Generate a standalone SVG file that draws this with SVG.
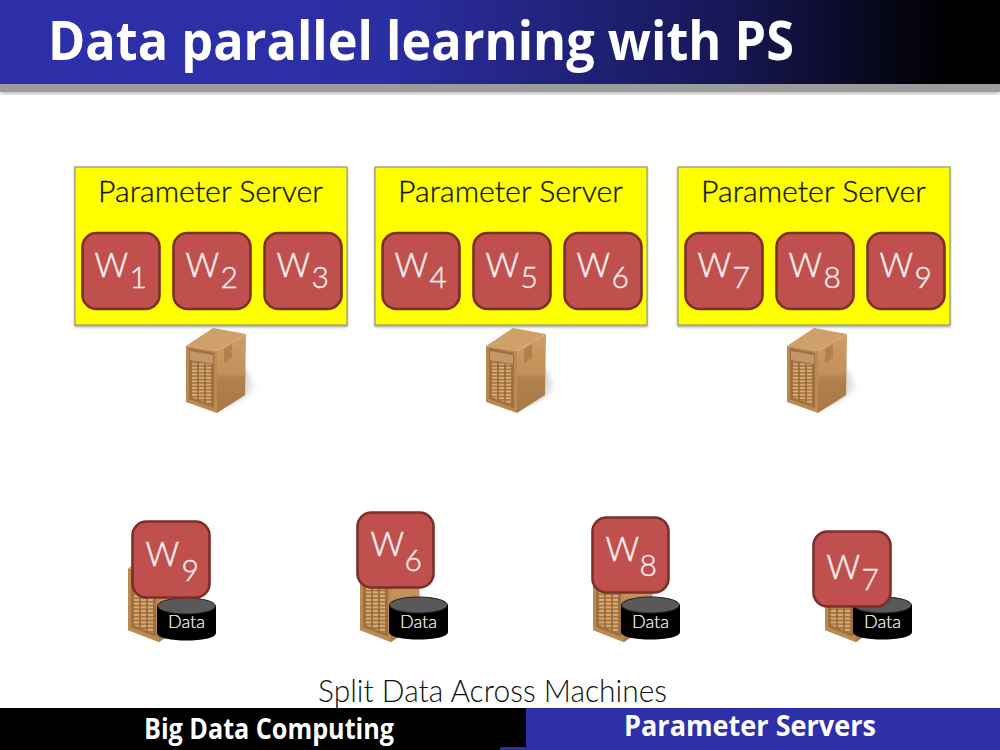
<svg xmlns="http://www.w3.org/2000/svg" width="1000" height="750" viewBox="0 0 1000 750">
<style>
  .head { font-family: "Open Sans", "Liberation Sans", sans-serif; font-weight: 700; fill: #fff; }
  .thin { font-family: Lato, "Liberation Sans", sans-serif; font-weight: 300; }
  .ps { fill: #ffff00; stroke: #8f9f6a; stroke-width: 1.2; filter: url(#soft); }
  .ps-label { font-size: 30px; fill: #111; stroke: #111; stroke-width: 0.3; }
  .w-box { fill: #c0504d; stroke: #7d2f2a; stroke-width: 2.6; }
  .w-text { fill: #fbeeee; stroke: #fbeeee; stroke-width: 0.5; font-size: 33px; }
  .w-sub { fill: #fbeeee; stroke: #fbeeee; stroke-width: 0.4; font-size: 30px; }
  .cyl { fill: #000; }
  .cyl-top { fill: #595959; stroke: #222; stroke-width: 1; }
  .data-text { fill: #fff; stroke: #fff; stroke-width: 0.2; font-size: 18px; text-anchor: middle; }
</style>
<defs>
  <linearGradient id="band" x1="0" x2="1" y1="0" y2="0">
    <stop offset="0" stop-color="#2e30aa"/>
    <stop offset="0.38" stop-color="#2c2ea4"/>
    <stop offset="0.72" stop-color="#171858"/>
    <stop offset="0.95" stop-color="#000"/>
    <stop offset="1" stop-color="#000"/>
  </linearGradient>
  <linearGradient id="side" x1="0" x2="0" y1="0" y2="1">
    <stop offset="0" stop-color="#cf9f68"/>
    <stop offset="0.5" stop-color="#c29058"/>
    <stop offset="0.56" stop-color="#b0814c"/>
    <stop offset="1" stop-color="#a87845"/>
  </linearGradient>
  <linearGradient id="drop" x1="0" x2="1" y1="0" y2="0">
    <stop offset="0" stop-color="#555" stop-opacity="0.8"/>
    <stop offset="1" stop-color="#999" stop-opacity="0"/>
  </linearGradient>
  <filter id="soft" x="-5%" y="-5%" width="110%" height="112%">
    <feDropShadow dx="0" dy="1.5" stdDeviation="1.2" flood-color="#555" flood-opacity="0.55"/>
  </filter>
  <filter id="blur2"><feGaussianBlur stdDeviation="2"/></filter>
  <pattern id="vents" width="7" height="3.400" patternUnits="userSpaceOnUse" x="191" y="366">
    <rect width="7" height="3.400" fill="#96693a"/>
    <rect x="0.800" y="0.600" width="5.400" height="2.100" fill="#dcab72"/>
  </pattern>
  <!-- Tower server, drawn once and reused at each position -->
  <g id="server">
    <polygon points="244,366 258,388 244,397 225,406" fill="url(#drop)" filter="url(#blur2)"/>
    <polygon points="186,346 213,328 246,334 217,351" fill="#cfa06a"/>
    <polygon points="217,351 246,334 245,395 217,413" fill="url(#side)"/>
    <polygon points="186,346 217,351 217,413 186,402" fill="#b98a54"/>
    <polygon points="189,348 214,353 214,408 189,399" fill="#9f6f3c"/>
    <polygon points="190,351 213,355 213,364 190,360" fill="#c4966a"/>
    <polygon points="191,361 212,365 212,405 191,397" fill="url(#vents)"/>
    <polygon points="224,349 232,344 232,358 224,363" fill="#b08050"/>
  </g>
</defs>

<rect width="1000" height="750" fill="#fff"/>

<g id="title-bar">
  <rect x="0" y="88" width="1000" height="6" fill="#bbb" filter="url(#blur2)"/>
  <rect x="0" y="83" width="1000" height="9" fill="#9c9c9c"/>
  <rect x="0" y="0" width="1000" height="84" fill="url(#band)"/>
  <text class="head" x="48" y="60" font-size="53" textLength="746" lengthAdjust="spacingAndGlyphs">Data parallel learning with PS</text>
</g>

<g id="server-1"><use href="#server"/></g>
<g id="server-2"><use href="#server" transform="translate(300,0)"/></g>
<g id="server-3"><use href="#server" transform="translate(601,0)"/></g>

<g id="ps-1">
  <rect class="ps" x="75" y="167" width="272" height="158"/>
  <text class="thin ps-label" x="98" y="202" textLength="225" lengthAdjust="spacingAndGlyphs">Parameter Server</text>
  <g id="w1" transform="translate(82.500,233)"><rect class="w-box" width="77" height="76" rx="14"/><text class="thin w-text" x="12" y="44">W</text><text class="thin w-sub" x="47" y="55">1</text></g>
  <g id="w2" transform="translate(173.500,233)"><rect class="w-box" width="77" height="76" rx="14"/><text class="thin w-text" x="12" y="44">W</text><text class="thin w-sub" x="47" y="55">2</text></g>
  <g id="w3" transform="translate(264.500,233)"><rect class="w-box" width="77" height="76" rx="14"/><text class="thin w-text" x="12" y="44">W</text><text class="thin w-sub" x="47" y="55">3</text></g>
</g>
<g id="ps-2">
  <rect class="ps" x="375" y="167" width="272" height="158"/>
  <text class="thin ps-label" x="398" y="202" textLength="225" lengthAdjust="spacingAndGlyphs">Parameter Server</text>
  <g id="w4" transform="translate(382.500,233)"><rect class="w-box" width="77" height="76" rx="14"/><text class="thin w-text" x="12" y="44">W</text><text class="thin w-sub" x="47" y="55">4</text></g>
  <g id="w5" transform="translate(473.500,233)"><rect class="w-box" width="77" height="76" rx="14"/><text class="thin w-text" x="12" y="44">W</text><text class="thin w-sub" x="47" y="55">5</text></g>
  <g id="w6" transform="translate(564.500,233)"><rect class="w-box" width="77" height="76" rx="14"/><text class="thin w-text" x="12" y="44">W</text><text class="thin w-sub" x="47" y="55">6</text></g>
</g>
<g id="ps-3">
  <rect class="ps" x="678" y="167" width="272" height="158"/>
  <text class="thin ps-label" x="701" y="202" textLength="225" lengthAdjust="spacingAndGlyphs">Parameter Server</text>
  <g id="w7" transform="translate(685.500,233)"><rect class="w-box" width="77" height="76" rx="14"/><text class="thin w-text" x="12" y="44">W</text><text class="thin w-sub" x="47" y="55">7</text></g>
  <g id="w8" transform="translate(776.500,233)"><rect class="w-box" width="77" height="76" rx="14"/><text class="thin w-text" x="12" y="44">W</text><text class="thin w-sub" x="47" y="55">8</text></g>
  <g id="w9" transform="translate(867.500,233)"><rect class="w-box" width="77" height="76" rx="14"/><text class="thin w-text" x="12" y="44">W</text><text class="thin w-sub" x="47" y="55">9</text></g>
</g>

<!-- Machines along the bottom: tower, worker tile, data cylinder -->
<g id="machine-1">
  <use href="#server" transform="translate(-58,188) scale(1,1.1)"/>
  <g transform="translate(157,598)"><path class="cyl" d="M0,8 V35 C0,45 59,45 59,35 V8 Z"/><ellipse class="cyl-top" cx="29.500" cy="8" rx="29" ry="8"/><text class="thin data-text" x="29.500" y="30">Data</text></g>
  <g transform="translate(132.500,521.500)"><rect class="w-box" width="77" height="76" rx="14"/><text class="thin w-text" x="13" y="44">W</text><text class="thin w-sub" x="49" y="59">9</text></g>
</g>
<g id="machine-2">
  <use href="#server" transform="translate(174,188) scale(1,1.1)"/>
  <g transform="translate(389,597)"><path class="cyl" d="M0,8 V35 C0,45 59,45 59,35 V8 Z"/><ellipse class="cyl-top" cx="29.500" cy="8" rx="29" ry="8"/><text class="thin data-text" x="29.500" y="31">Data</text></g>
  <g transform="translate(357.500,512.500)"><rect class="w-box" width="76" height="75" rx="14"/><text class="thin w-text" x="13" y="43">W</text><text class="thin w-sub" x="47" y="58">6</text></g>
</g>
<g id="machine-3">
  <use href="#server" transform="translate(407,188) scale(1,1.1)"/>
  <g transform="translate(621,597)"><path class="cyl" d="M0,8 V35 C0,45 59,45 59,35 V8 Z"/><ellipse class="cyl-top" cx="29.500" cy="8" rx="29" ry="8"/><text class="thin data-text" x="29.500" y="31">Data</text></g>
  <g transform="translate(592.500,517.500)"><rect class="w-box" width="76" height="75" rx="14"/><text class="thin w-text" x="13" y="43">W</text><text class="thin w-sub" x="47" y="58">8</text></g>
</g>
<g id="machine-4">
  <use href="#server" transform="translate(639,188) scale(1,1.1)"/>
  <g transform="translate(853,597)"><path class="cyl" d="M0,8 V35 C0,45 59,45 59,35 V8 Z"/><ellipse class="cyl-top" cx="29.500" cy="8" rx="29" ry="8"/><text class="thin data-text" x="29.500" y="31">Data</text></g>
  <g transform="translate(813.500,531.500)"><rect class="w-box" width="77" height="75" rx="14"/><text class="thin w-text" x="13" y="47">W</text><text class="thin w-sub" x="48" y="58">7</text></g>
</g>

<g id="footer">
  <rect x="0" y="708" width="526" height="42" fill="#000"/>
  <rect x="526" y="708" width="474" height="42" fill="#2e30aa"/>
  <rect x="500" y="747" width="26" height="3" fill="#2e30aa"/>
  <text class="head" x="144" y="739" font-size="29" textLength="250" lengthAdjust="spacingAndGlyphs">Big Data Computing</text>
  <text class="head" x="624" y="736" font-size="29" textLength="252" lengthAdjust="spacingAndGlyphs">Parameter Servers</text>
</g>

<text id="caption" class="thin" x="318" y="702" font-size="31" fill="#111" textLength="349" lengthAdjust="spacingAndGlyphs">Split Data Across Machines</text>
</svg>
